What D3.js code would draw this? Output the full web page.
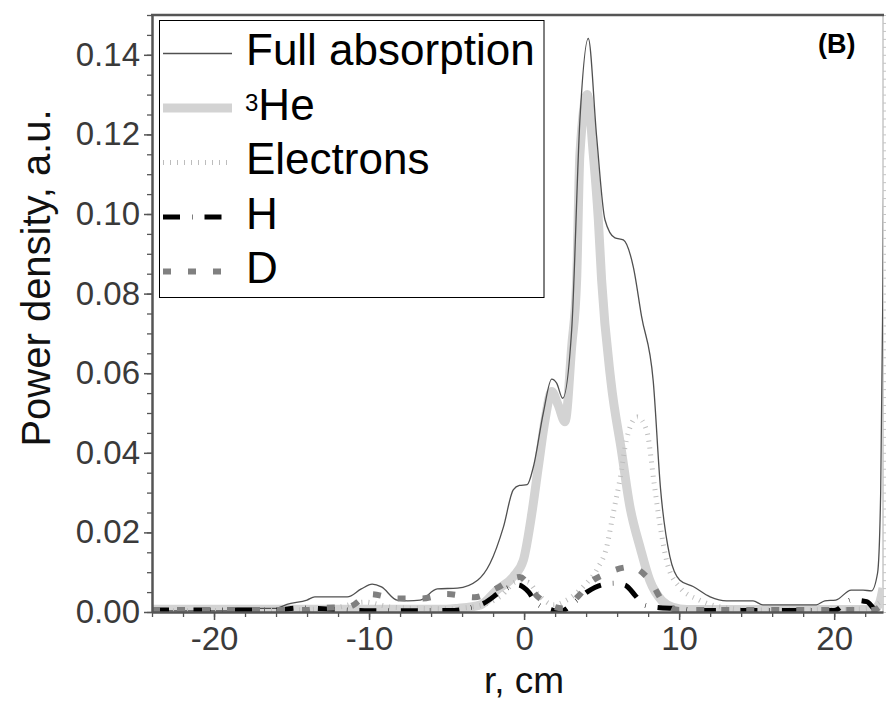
<!DOCTYPE html>
<html>
<head>
<meta charset="utf-8">
<script src="https://cdn.jsdelivr.net/npm/d3@7"></script>
<style>
  body { margin: 0; background: #fff; }
  svg { display: block; font-family: "Liberation Sans", Arial, sans-serif; }
</style>
</head>
<body>
<div id="chart"></div>
<script>
// ---- data (r in cm, power density in a.u.) ----
const rFull = [-24, -19, -18.5, -16, -15.3, -14, -13.5, -11.4, -10.5, -9.8, -9.2, -8.2, -7.5, -6.7, -5.6, -4.3, -3.0, -2.2, -1.33, -0.7, -0.3, 0.2, 0.6, 1.24, 1.78, 2.1, 2.49, 3.07, 3.6, 4.14, 4.68, 5.22, 5.86, 6.4, 7.04, 7.58, 8.33, 8.8, 9.4, 10.05, 10.9, 12, 13.06, 14.77, 15.4, 18.85, 19.4, 20.1, 21.1, 21.86, 22.4, 22.8, 23.0, 23.15, 23.3];
const full = [0.0003, 0.0003, 0.0009, 0.0009, 0.0019, 0.003, 0.0038, 0.0038, 0.0058, 0.007, 0.0063, 0.003, 0.0028, 0.003, 0.0058, 0.006, 0.008, 0.0122, 0.0214, 0.0307, 0.0318, 0.032, 0.0365, 0.050, 0.0585, 0.0575, 0.0537, 0.0709, 0.1236, 0.1441, 0.1194, 0.0985, 0.094, 0.0935, 0.0868, 0.0742, 0.058, 0.031, 0.014, 0.008, 0.0064, 0.0038, 0.0028, 0.0028, 0.0018, 0.0018, 0.0028, 0.003, 0.0055, 0.0055, 0.0053, 0.0098, 0.03, 0.085, 0.16];

const rHe = [-24, -5, -4.3, -2.8, -1.76, -0.69, -0.05, 0.5, 0.92, 1.35, 1.78, 2.2, 2.64, 3.07, 3.39, 3.6, 4.08, 4.46, 4.79, 5.0, 5.6, 6.3, 6.8, 7.5, 8.1, 8.9, 9.6, 10.5, 22.5, 22.9, 23.15];
const he = [0.0007, 0.0007, 0.0009, 0.0018, 0.0055, 0.0089, 0.013, 0.0248, 0.0365, 0.0482, 0.0554, 0.052, 0.0478, 0.0667, 0.0834, 0.115, 0.130, 0.1152, 0.0985, 0.0834, 0.058, 0.040, 0.027, 0.016, 0.008, 0.0028, 0.0012, 0.0006, 0.0006, 0.002, 0.006];

const rEl = [-24, -15, -12, -10.3, -8.5, -5, -3, -1.5, -0.5, 0.2, 1.0, 1.9, 2.75, 3.82, 4.68, 5.33, 5.75, 6.18, 6.6, 7.3, 7.9, 8.4, 8.76, 9.25, 10.0, 11.3, 12.6, 15, 22, 23.15];
const electrons = [0.0003, 0.0005, 0.0012, 0.0025, 0.0012, 0.0008, 0.0015, 0.004, 0.0075, 0.0075, 0.004, 0.0018, 0.003, 0.0064, 0.0106, 0.0164, 0.0248, 0.0332, 0.0432, 0.049, 0.0457, 0.032, 0.022, 0.012, 0.0064, 0.003, 0.0013, 0.0005, 0.0008, 0.003];

const rH = [-24, -16, -14.5, -13, -11.5, -10, -4.5, -3.7, -2.6, -1.35, -0.4, 0.3, 0.8, 1.8, 2.3, 3.3, 4.1, 5.0, 5.8, 6.5, 7.2, 7.7, 8.5, 10.2, 11.1, 20, 21.1, 22.1, 22.7, 23.15];
const hyd = [0.0005, 0.0005, 0.001, 0.0008, 0.0005, 0.0003, 0.0004, 0.0009, 0.0022, 0.0055, 0.0068, 0.005, 0.0022, 0.0005, 0.0001, 0.0026, 0.0051, 0.0068, 0.0072, 0.0068, 0.004, 0.0018, 0.0012, 0.0008, 0.0004, 0.0004, 0.003, 0.0026, 0.0005, 0.0003];

const rD = [-24, -14, -13.3, -11.3, -9.9, -8.2, -6.6, -5.0, -3.2, -1.76, -0.3, 0.92, 2.5, 3.5, 4.3, 5.2, 6.87, 8.1, 9.1, 10.0, 22.5, 23.15];
const deut = [0.0005, 0.0005, 0.0009, 0.0013, 0.0045, 0.0034, 0.0034, 0.0045, 0.0037, 0.006, 0.0088, 0.0037, 0.0009, 0.004, 0.0075, 0.0095, 0.0113, 0.008, 0.0019, 0.0005, 0.0005, 0.002];

const xMajor = [-20, -10, 0, 10, 20];
const yMajor = [0.00, 0.02, 0.04, 0.06, 0.08, 0.10, 0.12, 0.14];

// ---- layout ----
const W = 890, H = 711;
const margin = {top: 15, right: 7, bottom: 99, left: 152};
const width = W - margin.left - margin.right;
const height = H - margin.top - margin.bottom;

const svg = d3.select("#chart").append("svg")
    .attr("width", W)
    .attr("height", H);

svg.append("rect").attr("width", W).attr("height", H).attr("fill", "#fff");

const g = svg.append("g")
    .attr("transform", "translate(" + margin.left + "," + margin.top + ")");

const x = d3.scaleLinear().domain([-24, 23.15]).range([0, width]);
const y = d3.scaleLinear().domain([0, 0.15]).range([height, 0]);

g.append("defs").append("clipPath")
    .attr("id", "clip")
    .append("rect")
    .attr("width", width)
    .attr("height", height);

// right frame with faint ticks
g.append("line")
    .attr("x1", width).attr("x2", width)
    .attr("y1", 0).attr("y2", height)
    .attr("stroke", "#aaa").attr("stroke-width", 1);

const yRight = d3.axisRight(y)
    .tickValues(d3.range(0, 0.1501, 0.002))
    .tickSize(3)
    .tickFormat("");
g.append("g")
    .attr("class", "right-axis")
    .attr("transform", "translate(" + width + ",0)")
    .call(yRight)
    .call(a => a.select(".domain").remove())
    .call(a => a.selectAll("line").attr("stroke", "#c4c4c4"));

// ---- series ----
const line = d3.line()
    .x(d => x(d[0]))
    .y(d => y(d[1]))
    .curve(d3.curveMonotoneX);

const series = [
    {name: "He",   r: rHe,   v: he,        stroke: "#d3d3d3", width: 9,   dash: null},
    {name: "Full", r: rFull, v: full,      stroke: "#505050", width: 1.3, dash: null},
    {name: "El",   r: rEl,   v: electrons, stroke: "#bdbdbd", width: 5,   dash: "1,6"},
    {name: "H",    r: rH,    v: hyd,       stroke: "#000",    width: 5,   dash: "17,12,0.5,12"},
    {name: "D",    r: rD,    v: deut,      stroke: "#808080", width: 6,   dash: "8,17"}
];

const plot = g.append("g").attr("clip-path", "url(#clip)");

plot.selectAll("path.series")
    .data(series)
    .enter().append("path")
    .attr("class", "series")
    .attr("fill", "none")
    .attr("stroke", d => d.stroke)
    .attr("stroke-width", d => d.width)
    .attr("stroke-dasharray", d => d.dash)
    .attr("d", d => line(d.r.map((r, i) => [r, d.v[i]])));

// ---- axes ----
const axisColor = "#555";
const labelColor = "#3a3a3a";

const xMinor = d3.axisBottom(x).tickValues(d3.range(-24, 24, 2)).tickSize(5).tickFormat("").tickSizeOuter(0);
g.append("g").attr("class", "x-minor")
    .attr("transform", "translate(0," + height + ")")
    .call(xMinor)
    .call(a => a.select(".domain").remove())
    .call(a => a.selectAll("line").attr("stroke", axisColor).attr("stroke-width", 1.3));

const xAxis = d3.axisBottom(x).tickValues(xMajor).tickSize(8).tickPadding(7).tickSizeOuter(0)
    .tickFormat(d => d);
g.append("g").attr("class", "x-axis")
    .attr("transform", "translate(0," + height + ")")
    .call(xAxis)
    .call(a => a.select(".domain").attr("stroke", axisColor).attr("stroke-width", 2.5))
    .call(a => a.selectAll("line").attr("stroke", axisColor).attr("stroke-width", 1.5))
    .call(a => a.selectAll("text")
        .attr("fill", labelColor)
        .style("font-size", "33px")
        .style("font-family", "'Liberation Sans', Arial, sans-serif")
        .text(d => d < 0 ? "-" + Math.abs(d) : d));

const yMinor = d3.axisLeft(y).tickValues(d3.range(0, 0.1501, 0.005)).tickSize(5).tickFormat("").tickSizeOuter(0);
g.append("g").attr("class", "y-minor")
    .call(yMinor)
    .call(a => a.select(".domain").remove())
    .call(a => a.selectAll("line").attr("stroke", axisColor).attr("stroke-width", 1.3));

const yAxis = d3.axisLeft(y).tickValues(yMajor).tickSize(8).tickPadding(4).tickSizeOuter(0)
    .tickFormat(d3.format(".2f"));
g.append("g").attr("class", "y-axis")
    .call(yAxis)
    .call(a => a.select(".domain").attr("stroke", axisColor).attr("stroke-width", 2.5))
    .call(a => a.selectAll("line").attr("stroke", axisColor).attr("stroke-width", 1.5))
    .call(a => a.selectAll("text")
        .attr("fill", labelColor)
        .style("font-size", "33px")
        .style("font-family", "'Liberation Sans', Arial, sans-serif"));

// top frame
g.append("line")
    .attr("x1", -1).attr("x2", width + 1)
    .attr("y1", 0).attr("y2", 0)
    .attr("stroke", axisColor).attr("stroke-width", 2.5);

// axis titles
svg.append("text")
    .attr("x", margin.left + x(0))
    .attr("y", 693)
    .attr("text-anchor", "middle")
    .attr("fill", "#111")
    .style("font-size", "37px")
    .text("r, cm");

svg.append("text")
    .attr("transform", "translate(50,278) rotate(-90)")
    .attr("text-anchor", "middle")
    .attr("fill", "#111")
    .style("font-size", "40px")
    .text("Power density, a.u.");

// panel label
svg.append("text")
    .attr("x", 818)
    .attr("y", 53)
    .attr("fill", "#000")
    .style("font-size", "27px")
    .style("font-weight", "bold")
    .text("(B)");

// ---- legend ----
const legend = svg.append("g").attr("class", "legend");
legend.append("rect")
    .attr("x", 159.5).attr("y", 20.5)
    .attr("width", 384.5).attr("height", 277)
    .attr("fill", "#fff")
    .attr("stroke", "#000")
    .attr("stroke-width", 1);

const legendOrder = ["Full", "He", "El", "H", "D"];
const legendLabels = {Full: "Full absorption", He: "He", El: "Electrons", H: "H", D: "D"};

legendOrder.forEach((key, i) => {
    const s = series.find(d => d.name === key);
    const base = 65 + i * 54.5;
    legend.append("line")
        .attr("x1", 163).attr("x2", 232)
        .attr("y1", base - 11.5).attr("y2", base - 11.5)
        .attr("stroke", s.stroke)
        .attr("stroke-width", s.width)
        .attr("stroke-dasharray", s.dash);
    const t = legend.append("text")
        .attr("x", key === "He" ? 245 : 246)
        .attr("y", base)
        .attr("fill", "#000")
        .style("font-size", "44px");
    if (key === "He") {
        t.append("tspan").style("font-size", "24px").attr("dy", -9).text("3");
        t.append("tspan").attr("dy", 9).text("He");
    } else {
        t.text(legendLabels[key]);
    }
});
</script>
</body>
</html>
